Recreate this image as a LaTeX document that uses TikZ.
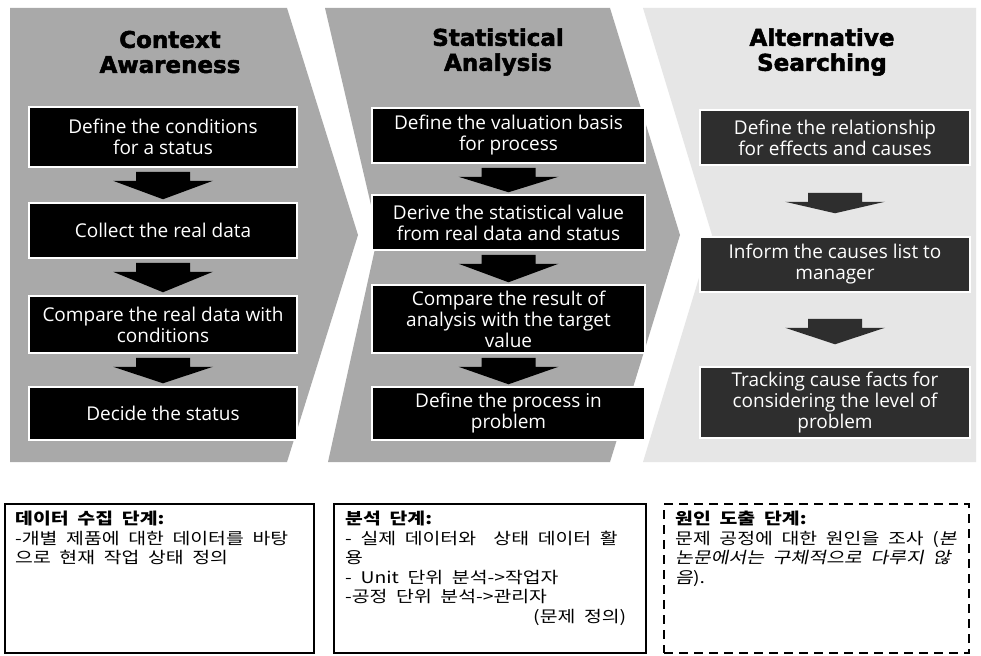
\documentclass[tikz,border=0pt]{standalone}
\usepackage{fontspec}
\usetikzlibrary{calc}
\newfontfamily\headfont{DejaVu Sans}[BoldFeatures={FakeBold=2.2}]
\newfontfamily\boxfont{Open Sans}
\newfontfamily\kr{Noto Sans CJK KR}[FakeStretch=1.21,WordSpace=2]
\newfontfamily\krit{Noto Sans CJK KR}[FakeStretch=1.21,WordSpace=2,FakeSlant=0.2]
\definecolor{chevgray}{HTML}{A9A9A9}
\definecolor{chevlight}{HTML}{E6E6E6}
\definecolor{boxdark}{HTML}{2E2E2E}

% block arrow between two step boxes: src, dst, gap below src, gap above dst, fill
\newcommand\blockarrow[5]{%
  \fill[#5] let \p1=(#1.south), \p2=(#2.north) in
    (\x1-27pt,\y1-#3pt) -- (\x1+27pt,\y1-#3pt) -- (\x1+27pt,\y1-#3pt-9pt)
    -- (\x1+50pt,\y1-#3pt-9pt) -- (\x1,\y2+#4pt) -- (\x1-50pt,\y1-#3pt-9pt)
    -- (\x1-27pt,\y1-#3pt-9pt) -- cycle;}

\begin{document}
\begin{tikzpicture}[x=1pt,y=-1pt,
  headtext/.style={font=\headfont\bfseries\fontsize{23}{25}\selectfont,
    align=center, text=black, inner sep=0pt},
  stepbox/.style={fill=black, draw=white, line width=1.5pt, text=white,
    font=\boxfont\fontsize{19}{21}\selectfont, align=center, inner sep=0pt},
  stepboxgray/.style={stepbox, fill=boxdark},
  notebox/.style={draw=black, line width=1.8pt},
  notedash/.style={draw=black, line width=2.2pt, dash pattern=on 9pt off 6pt},
  notetext/.style={font=\kr\fontsize{16}{19.5}\selectfont, align=left,
    inner sep=0pt, anchor=north west}]
\useasboundingbox (0,0) rectangle (981,655);
\fill[white] (0,0) rectangle (981,655);

% process chevrons
\fill[chevgray] (10,8) -- (287,8) -- (358,235) -- (287,462) -- (10,462) -- cycle;
\fill[chevgray] (325,8) -- (610,8) -- (680,235) -- (610,462) -- (328,462) -- (378,235) -- cycle;
\fill[chevlight] (643,8) -- (976,8) -- (976,462) -- (643,462) -- (712,235) -- cycle;

% stage titles
\node[headtext] (h1) at (170,52) {Context\\Awareness};
\node[headtext] (h2) at (498,52) {Statistical\\Analysis};
\node[headtext] (h3) at (822,52) {Alternative\\Searching};

% column 1
\node[stepbox, minimum width=268pt, minimum height=60pt] (c1a) at (163,137) {Define the conditions\\for a status};
\node[stepbox, minimum width=268pt, minimum height=55pt] (c1b) at (163,230.5) {Collect the real data};
\node[stepbox, minimum width=268pt, minimum height=57pt] (c1c) at (163,324.5) {Compare the real data with\\conditions};
\node[stepbox, minimum width=268pt, minimum height=53pt] (c1d) at (163,413.5) {Decide the status};

% column 2
\node[stepbox, minimum width=273pt, minimum height=55pt] (c2a) at (508.5,135.5) {Define the valuation basis\\for process};
\node[stepbox, minimum width=273pt, minimum height=55pt] (c2b) at (508.5,222.5) {Derive the statistical value\\from real data and status};
\node[stepbox, minimum width=273pt, minimum height=68pt] (c2c) at (508.5,319) {Compare the result of\\analysis with the target\\value};
\node[stepbox, minimum width=273pt, minimum height=53pt] (c2d) at (508.5,413.5) {Define the process in\\problem};

% column 3
\node[stepboxgray, minimum width=270pt, minimum height=55pt] (c3a) at (835,137.5) {Define the relationship\\for effects and causes};
\node[stepboxgray, minimum width=270pt, minimum height=55pt] (c3b) at (835,264.5) {Inform the causes list to\\manager};
\node[stepboxgray, minimum width=270pt, minimum height=71pt] (c3c) at (835,402.5) {Tracking cause facts for\\considering the level of\\problem};

% arrows between steps
\blockarrow{c1a}{c1b}{4}{3}{black}
\blockarrow{c1b}{c1c}{4}{3}{black}
\blockarrow{c1c}{c1d}{4}{3}{black}
\blockarrow{c2a}{c2b}{4}{2}{black}
\blockarrow{c2b}{c2c}{4}{2}{black}
\blockarrow{c2c}{c2d}{4}{2}{black}
\blockarrow{c3a}{c3b}{27}{23}{boxdark}
\blockarrow{c3b}{c3c}{26}{22}{boxdark}

% notes
\node[notebox, minimum width=309pt, minimum height=149pt, anchor=north west] (na) at (4,503) {};
\node[notebox, minimum width=312pt, minimum height=149pt, anchor=north west] (nb) at (333,503) {};
\node[notedash, minimum width=305pt, minimum height=149pt, anchor=north west] (nc) at (663,503) {};

\node[notetext] (ta) at ([shift={(11,8)}]na.north west)
  {\textbf{데이터 수집 단계:}\\-개별 제품에 대한 데이터를 바탕\\으로 현재 작업 상태 정의};
\node[notetext] (tb) at ([shift={(12,8)}]nb.north west)
  {\textbf{분석 단계:}\\- 실제 데이터와\ \ 상태 데이터 활\\용\\- Unit 단위 분석->작업자\\-공정 단위 분석->관리자\\\hspace*{188pt}(문제 정의)};
\node[notetext] (tc) at ([shift={(12,8)}]nc.north west)
  {\textbf{원인 도출 단계:}\\문제 공정에 대한 원인을 조사 ({\krit 본}\\{\krit 논문에서는 구체적으로 다루지 않}\\{\krit 음}).};
\end{tikzpicture}
\end{document}
